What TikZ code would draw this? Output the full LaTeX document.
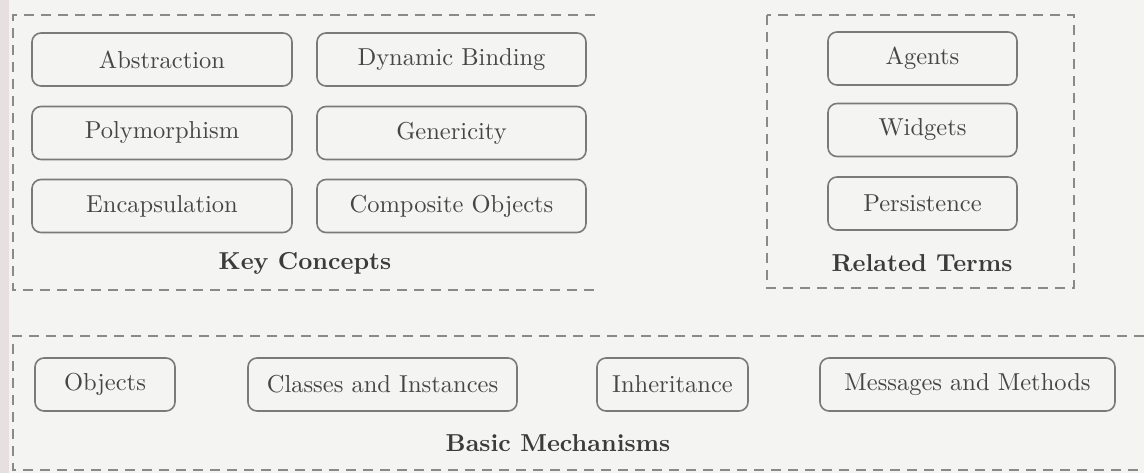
\documentclass[tikz,border=0pt]{standalone}
\usepackage{fontspec}
\setmainfont{lmroman10-regular.otf}[BoldFont=lmroman10-bold.otf]
\usepackage{xcolor}
\definecolor{paper}{HTML}{F4F4F2}
\definecolor{edge}{HTML}{E6E0E0}
\definecolor{ink}{HTML}{464646}
\definecolor{frame}{HTML}{7A7A7A}
\definecolor{dashc}{HTML}{8A8A8A}
\begin{document}
\begin{tikzpicture}[x=1pt,y=-1pt,
  termbox/.style={draw=frame, line width=1.6pt, rounded corners=9pt,
    minimum height=53pt, inner sep=0pt, text=ink,
    font=\fontsize{24.5}{28}\selectfont},
  grouplabel/.style={text=ink!85!black, inner sep=0pt,
    font=\fontsize{24.5}{28}\selectfont\bfseries},
  groupframe/.style={draw=dashc, line width=1.6pt, dash pattern=on 10pt off 7pt}]
  % page and scanned edge
  \fill[paper] (0,0) rectangle (1144,473);
  \fill[edge] (0,0) rectangle (9,473);
  \useasboundingbox (0,0) rectangle (1144,473);

  % group frames
  \draw[groupframe] (595,15) -- (13,15) -- (13,290) -- (595,290);
  \draw[groupframe] (767,15) rectangle (1074,288);
  \draw[groupframe] (1144,336) -- (13,336) -- (13,470) -- (1144,470);

  % Key Concepts
  \node[termbox, minimum width=260pt] (abs) at (162,59.5) {Abstraction};
  \node[termbox, minimum width=269pt] (dyn) at (451.5,59.5) {Dynamic Binding};
  \node[termbox, minimum width=260pt] (poly) at (162,133) {Polymorphism};
  \node[termbox, minimum width=269pt] (gen) at (451.5,133) {Genericity};
  \node[termbox, minimum width=260pt] (enc) at (162,206) {Encapsulation};
  \node[termbox, minimum width=269pt] (comp) at (451.5,206) {Composite Objects};
  \node[grouplabel] (kc) at (305,263) {Key Concepts};

  % Related Terms
  \node[termbox, minimum width=189pt] (agt) at (922.5,58.5) {Agents};
  \node[termbox, minimum width=189pt] (wid) at (922.5,130) {Widgets};
  \node[termbox, minimum width=189pt] (per) at (922.5,203.5) {Persistence};
  \node[grouplabel] (rt) at (922,263) {Related Terms};

  % Basic Mechanisms
  \node[termbox, minimum width=140pt] (obj) at (105,384.5) {Objects};
  \node[termbox, minimum width=269pt] (cls) at (382.5,384.5) {Classes and Instances};
  \node[termbox, minimum width=151pt] (inh) at (672.5,384.5) {Inheritance};
  \node[termbox, minimum width=295pt] (msg) at (967.5,384.5) {Messages and Methods};
  \node[grouplabel] (bm) at (558,443) {Basic Mechanisms};
\end{tikzpicture}
\end{document}
